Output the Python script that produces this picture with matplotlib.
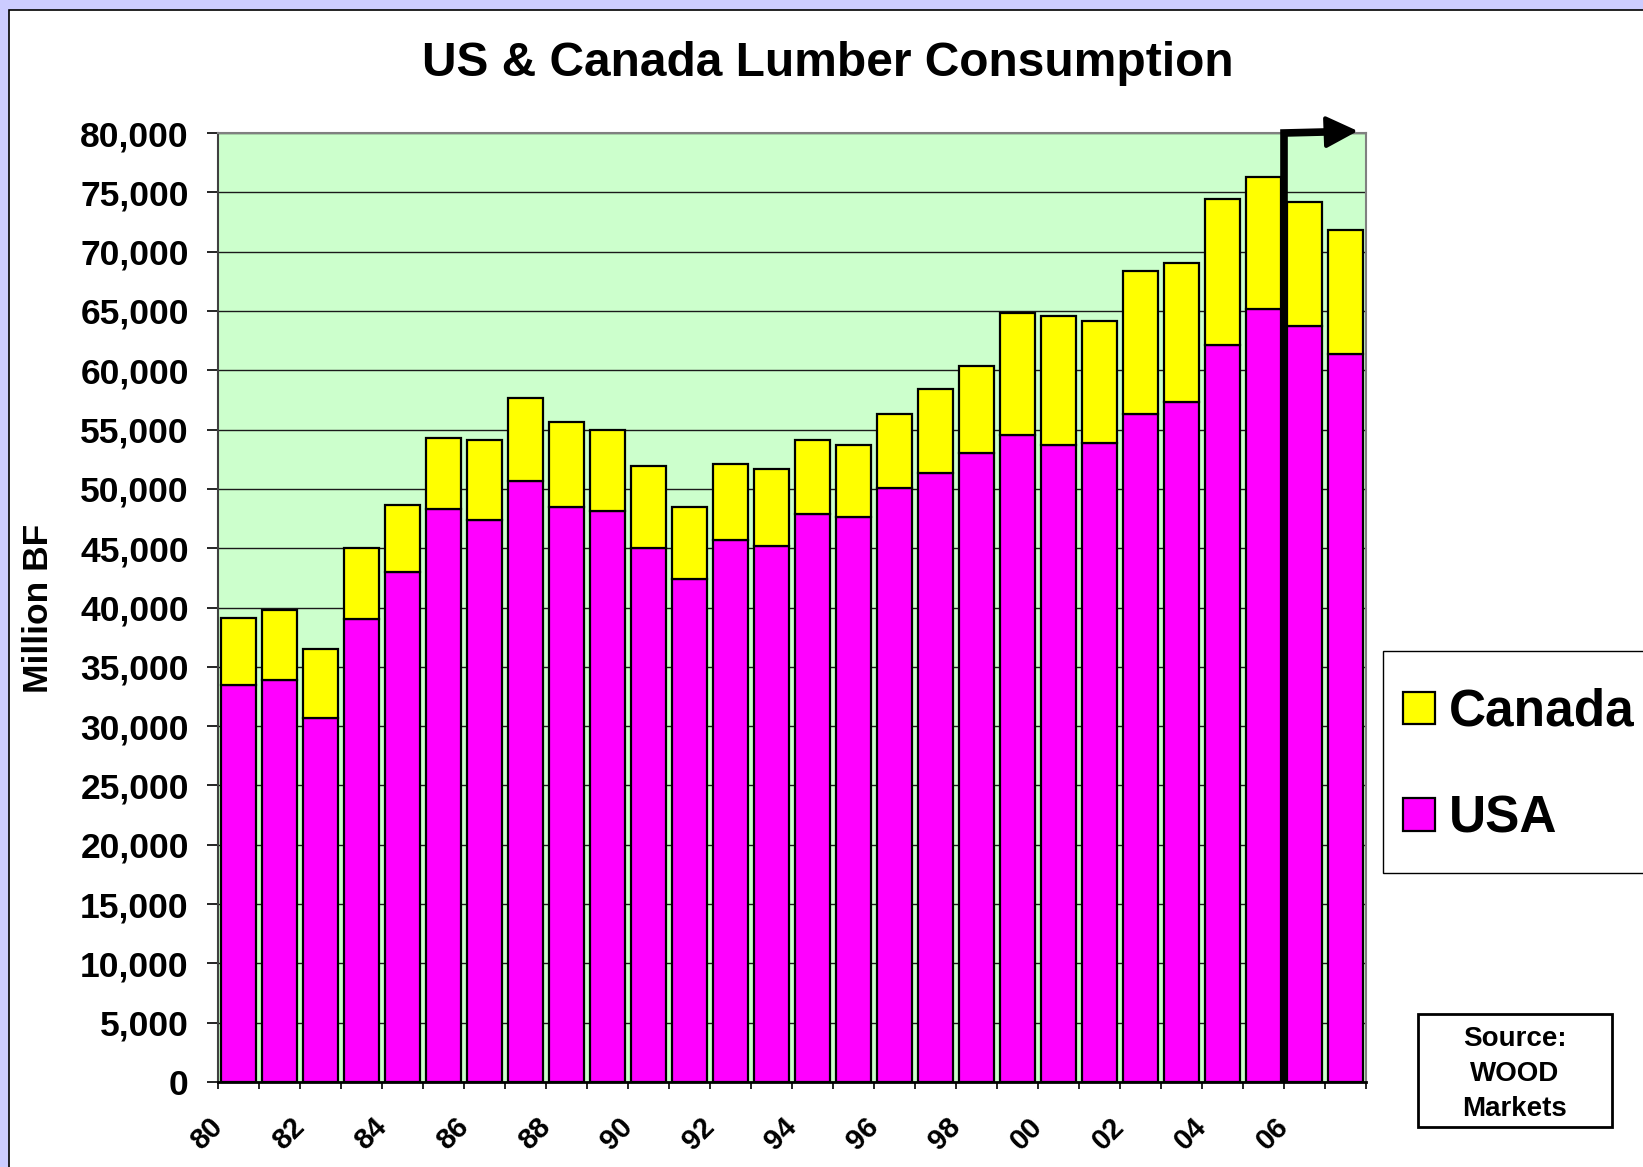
import numpy as np
import matplotlib
matplotlib.use("Agg")
import matplotlib.pyplot as plt
import matplotlib.transforms as mtransforms
from matplotlib.patches import Rectangle
from matplotlib.ticker import FuncFormatter

OUT = "out.png"
W, H = 1643, 1167

# data, million board feet
YEARS = list(range(1980, 2008))
USA = [33500, 33900, 30700, 39000, 43000, 48300, 47400, 50650, 48500, 48100,
       45000, 42400, 45650, 45200, 47900, 47650, 50050, 51300, 53000, 54500,
       53700, 53900, 56300, 57300, 62100, 65200, 63700, 61400]
CANADA = [5650, 5900, 5800, 6000, 5600, 6000, 6700, 7050, 7100, 6900,
          6900, 6100, 6450, 6500, 6200, 6050, 6250, 7100, 7400, 10300,
          10900, 10250, 12100, 11700, 12300, 11050, 10450, 10400]
Y_TICKS = list(range(0, 80001, 5000))
FORECAST_FROM = 2006

USA_COLOR = "#FF00FF"
CAN_COLOR = "#FFFF00"


def main():
    plt.rcParams["font.family"] = ["Liberation Sans", "DejaVu Sans"]
    plt.rcParams["font.weight"] = "bold"

    fig = plt.figure(figsize=(W / 100, H / 100), dpi=100, facecolor="#CCCCFF")

    # white chart panel with thin border (runs off right / bottom)
    fig.add_artist(Rectangle((9 / W, -0.02), 1.05, 1 - 10 / H + 0.02,
                             transform=fig.transFigure, facecolor="white",
                             edgecolor="black", lw=1.2, zorder=-10))

    ax = fig.add_axes([218 / W, 1 - 1082 / H, 1148 / W, 949 / H])
    ax.set_facecolor("#CCFFCC")

    x = np.arange(len(YEARS))
    usa_bars = ax.bar(x, USA, width=0.83, color=USA_COLOR, edgecolor="black",
                      linewidth=1.6, zorder=3, label="USA")
    can_bars = ax.bar(x, CANADA, width=0.83, bottom=USA, color=CAN_COLOR,
                      edgecolor="black", linewidth=1.6, zorder=3, label="Canada")

    ax.set_xlim(-0.5, len(YEARS) - 0.5)
    ax.set_ylim(0, 80000)

    ax.set_axisbelow(True)
    ax.yaxis.grid(True, color="#1a1a1a", lw=1.0)

    ax.set_yticks(Y_TICKS)
    ax.yaxis.set_major_formatter(FuncFormatter(lambda v, p: f"{v:,.0f}"))
    ax.tick_params(axis="y", length=8, width=1.2, pad=13, labelsize=25.5)

    # ticks on the category boundaries, labels every second year
    ax.set_xticks(x[::2] - 0.5)
    ax.set_xticklabels([f"{y % 100:02d}" for y in YEARS[::2]],
                       rotation=45, ha="right", va="top")
    ax.set_xticks(np.arange(len(YEARS) + 1) - 0.5, minor=True)
    ax.tick_params(axis="x", which="both", length=5, width=1.2)
    ax.tick_params(axis="x", which="major", pad=17, labelsize=21)
    shift = mtransforms.ScaledTranslation(0.1, 0, fig.dpi_scale_trans)
    for lab in ax.get_xticklabels():
        lab.set_transform(lab.get_transform() + shift)

    for side in ["top", "right"]:
        ax.spines[side].set_color("#808080")
        ax.spines[side].set_linewidth(1.5)
    ax.spines["left"].set_color("#404040")
    ax.spines["left"].set_linewidth(1.5)
    ax.spines["bottom"].set_linewidth(2)

    # forecast marker: thick line up from the 05/06 boundary, arrow to the right
    xf = YEARS.index(FORECAST_FROM) - 0.5
    x_end = len(YEARS) - 0.5
    ax.plot([xf, xf, x_end - 0.6], [0, 80000, 80120], color="black", lw=5.5,
            clip_on=False, zorder=6, solid_joinstyle="miter", solid_capstyle="butt")
    ax.annotate("", xy=(x_end - 0.2, 80170), xytext=(x_end - 0.65, 80115),
                arrowprops=dict(arrowstyle="-|>,head_length=0.9,head_width=0.45",
                                color="black", lw=3, mutation_scale=22,
                                shrinkA=0, shrinkB=0),
                annotation_clip=False, zorder=7)

    fig.text(828 / W, 1 - 76 / H, "US & Canada Lumber Consumption",
             ha="center", va="baseline", fontsize=34.5, weight="bold")
    fig.text(39 / W, 1 - 608 / H, "Million BF", rotation=90,
             ha="center", va="center", fontsize=25.5, weight="bold")

    # legend entries (frame drawn separately so it can run off the edge)
    leg = fig.legend(handles=[can_bars, usa_bars], labels=["Canada", "USA"],
                     loc="upper left", bbox_to_anchor=(1403 / W, 1 - 688 / H),
                     prop=dict(size=37, weight="bold"), frameon=False,
                     borderpad=0, handlelength=0.62, handleheight=0.6,
                     handletextpad=0.27, labelspacing=1.12, borderaxespad=0)
    fig.add_artist(Rectangle((1383 / W, 1 - 873 / H), 300 / W, 222 / H,
                             transform=fig.transFigure, facecolor="white",
                             edgecolor="black", lw=1.0, zorder=-5))

    # source box
    fig.add_artist(Rectangle((1418 / W, 1 - 1127 / H), 194 / W, 113 / H,
                             transform=fig.transFigure, facecolor="white",
                             edgecolor="black", lw=2))
    fig.text(1515 / W, 1 - 1074 / H, "Source:\nWOOD\nMarkets", ha="center",
             va="center", fontsize=20, weight="bold", linespacing=1.45)

    fig.savefig(OUT, dpi=100, facecolor=fig.get_facecolor())
    print(f"Saved -> {OUT}")


if __name__ == "__main__":
    main()
